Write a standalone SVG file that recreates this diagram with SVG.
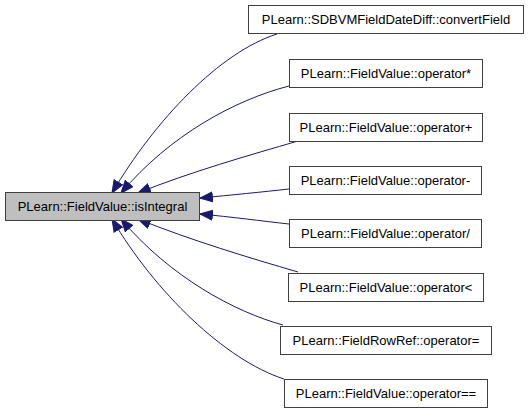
<svg xmlns="http://www.w3.org/2000/svg" width="528" height="413" viewBox="0 0 528 413">
<style>
.n rect{fill:#ffffff;stroke:#404040;stroke-width:1}
.n.m rect{fill:#bfbfbf}
.n text{font-family:"Liberation Sans",Arial,sans-serif;font-size:13px;fill:#000;text-anchor:middle}
.e path{fill:none;stroke:#191970;stroke-width:1}
</style>
<defs>
<marker id="ah" markerUnits="userSpaceOnUse" markerWidth="14" markerHeight="12" refX="12" refY="5" orient="auto" viewBox="0 0 13 10">
<polygon points="0.5,0.5 12,5 0.5,9.5" fill="#191970" stroke="#191970" stroke-width="1"/>
</marker>
</defs>
<g id="edges" class="e">
<path d="M277,34 C220,52 155,120 112,193" marker-end="url(#ah)"/>
<path d="M289,86 C235,100 170,135 121,193" marker-end="url(#ah)"/>
<path d="M298,141 C250,155 190,172 138,193" marker-end="url(#ah)"/>
<path d="M289,189 C262,192 232,195 200,198" marker-end="url(#ah)"/>
<path d="M289,224 C262,221 232,217 200,214" marker-end="url(#ah)"/>
<path d="M298,272 C250,258 190,240 138,219" marker-end="url(#ah)"/>
<path d="M283,325 C235,312 170,277 121,219" marker-end="url(#ah)"/>
<path d="M284,379 C225,360 155,292 112,219" marker-end="url(#ah)"/>
</g>
<g id="node-main" class="n m"><rect x="5.5" y="192.5" width="194" height="28"/><text x="102.5" y="211">PLearn::FieldValue::isIntegral</text></g>
<g id="node1" class="n"><rect x="248.5" y="5.5" width="275" height="28"/><text x="386" y="24">PLearn::SDBVMFieldDateDiff::convertField</text></g>
<g id="node2" class="n"><rect x="289.5" y="59.5" width="193" height="28"/><text x="386" y="78">PLearn::FieldValue::operator*</text></g>
<g id="node3" class="n"><rect x="289.5" y="113.5" width="193" height="28"/><text x="386" y="132">PLearn::FieldValue::operator+</text></g>
<g id="node4" class="n"><rect x="289.5" y="166.5" width="192" height="28"/><text x="385.5" y="185">PLearn::FieldValue::operator-</text></g>
<g id="node5" class="n"><rect x="289.5" y="219.5" width="192" height="28"/><text x="385.5" y="238">PLearn::FieldValue::operator/</text></g>
<g id="node6" class="n"><rect x="288.5" y="273.5" width="195" height="28"/><text x="386" y="292">PLearn::FieldValue::operator&lt;</text></g>
<g id="node7" class="n"><rect x="280.5" y="326.5" width="211" height="28"/><text x="386" y="345">PLearn::FieldRowRef::operator=</text></g>
<g id="node8" class="n"><rect x="284.5" y="379.5" width="203" height="28"/><text x="386" y="398">PLearn::FieldValue::operator==</text></g>
</svg>
